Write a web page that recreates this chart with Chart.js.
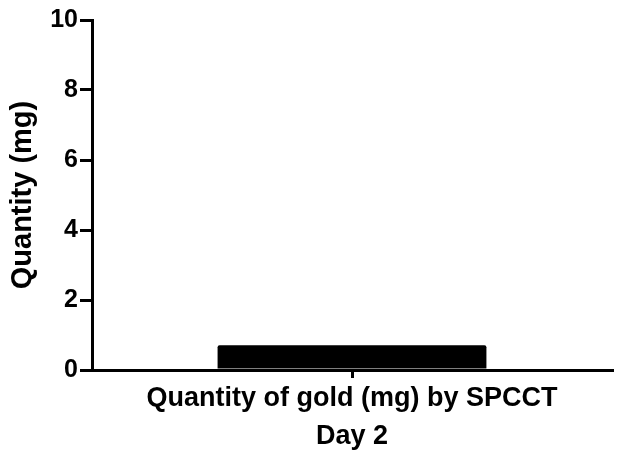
<!DOCTYPE html>
<html>
<head>
<meta charset="utf-8">
<script src="https://cdn.jsdelivr.net/npm/chart.js@4"></script>
<style>
  html, body { margin: 0; padding: 0; background: #fff; }
  #wrap { width: 619px; height: 452px; }
</style>
</head>
<body>
<div id="wrap"><canvas id="grafico"></canvas></div>
<script>
const categorias = [['Quantity of gold (mg) by SPCCT', 'Day 2']];
const valores = [0.71];
const marcasY = [0, 2, 4, 6, 8, 10];

const familia = 'Liberation Sans, Arial, sans-serif';

window.addEventListener('load', function () {
    const ctx = document.getElementById('grafico');
    new Chart(ctx, {
        type: 'bar',
        data: {
            labels: categorias,
            datasets: [{
                data: valores,
                backgroundColor: '#000',
                borderWidth: 0,
                borderRadius: 2,
                borderSkipped: 'bottom',
                categoryPercentage: 1,
                barPercentage: 0.517
            }]
        },
        options: {
            responsive: true,
            maintainAspectRatio: false,
            animation: false,
            layout: { padding: { top: 20, right: 7, left: 0, bottom: 0 } },
            plugins: { legend: { display: false }, tooltip: { enabled: false } },
            scales: {
                x: {
                    afterFit: function (scale) { scale.height = 82; },
                    grid: { display: true, drawOnChartArea: false, offset: false, color: '#000', lineWidth: 3, tickLength: 8 },
                    border: { color: '#000', width: 3 },
                    ticks: {
                        color: '#000',
                        font: { family: familia, weight: 'bold', size: 27, lineHeight: 1.4 },
                        padding: 2,
                        maxRotation: 0
                    }
                },
                y: {
                    min: 0,
                    max: 10,
                    afterFit: function (scale) { scale.width = 92; },
                    afterBuildTicks: function (axis) {
                        axis.ticks = marcasY.map(function (v) { return { value: v }; });
                    },
                    grid: { drawOnChartArea: false, color: '#000', lineWidth: 3, tickLength: 12 },
                    border: { color: '#000', width: 3 },
                    ticks: { color: '#000', font: { family: familia, weight: 'bold', size: 25 }, padding: 2 },
                    title: {
                        display: true,
                        text: 'Quantity (mg)',
                        color: '#000',
                        font: { family: familia, weight: 'bold', size: 29 },
                        padding: { top: 6, bottom: 0 }
                    }
                }
            }
        }
    });
});
</script>
</body>
</html>
